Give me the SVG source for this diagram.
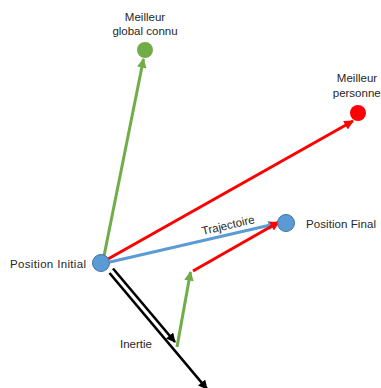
<svg xmlns="http://www.w3.org/2000/svg" width="381" height="388" viewBox="0 0 381 388">
<style>
text{font-family:"Liberation Sans","Open Sans",Arial,sans-serif;font-size:11.5px;fill:#262626}
.c{stroke-width:3;fill:none}
.g{stroke:#70AD47}.r{stroke:#FF0000}.b{stroke:#5B9BD5}.k{stroke:#000;stroke-width:2.6}
.blue{fill:#5B9BD5;stroke:#41719C;stroke-width:1}
</style>
<defs>
<marker id="ag" viewBox="0 0 10 10" refX="9" refY="5" markerWidth="3.4" markerHeight="3.2" orient="auto"><path d="M0,0L10,5L0,10z" fill="#70AD47"/></marker>
<marker id="ar" viewBox="0 0 10 10" refX="9" refY="5" markerWidth="3.4" markerHeight="3.2" orient="auto"><path d="M0,0L10,5L0,10z" fill="#FF0000"/></marker>
<marker id="ab" viewBox="0 0 10 10" refX="9" refY="5" markerWidth="3.4" markerHeight="3.2" orient="auto"><path d="M0,0L10,5L0,10z" fill="#5B9BD5"/></marker>
<marker id="ak" viewBox="0 0 10 10" refX="9" refY="5" markerWidth="3.8" markerHeight="3.6" orient="auto"><path d="M0,0L10,5L0,10z" fill="#000"/></marker>
</defs>
<g id="connectors">
<line class="c g" x1="104" y1="256" x2="143.5" y2="59" marker-end="url(#ag)"/>
<line class="c r" x1="108" y1="259" x2="353" y2="121" marker-end="url(#ar)"/>
<line class="c b" x1="110" y1="262" x2="277" y2="223.5" marker-end="url(#ab)"/>
<line class="c k" x1="113" y1="268.5" x2="175" y2="342" marker-end="url(#ak)"/>
<line class="c k" x1="109.5" y1="273" x2="207" y2="389" marker-end="url(#ak)"/>
<line class="c g" x1="177" y1="347" x2="190.5" y2="272" marker-end="url(#ag)"/>
<line class="c r" x1="193" y1="271" x2="279" y2="222" marker-end="url(#ar)"/>
<text x="229" y="229" text-anchor="middle" transform="rotate(-13 229 229)">Trajectoire</text>
<text x="136" y="348" text-anchor="middle">Inertie</text>
</g>
<g id="initial">
<circle class="blue" cx="101" cy="263" r="8.5"/>
<text x="86" y="268" text-anchor="end" textLength="76">Position Initial</text>
</g>
<g id="final">
<circle class="blue" cx="286" cy="223" r="8.5"/>
<text x="306" y="228" textLength="70">Position Final</text>
</g>
<g id="global">
<circle cx="145" cy="50" r="8" fill="#70AD47"/>
<text x="145" y="21" text-anchor="middle">Meilleur</text>
<text x="145" y="35" text-anchor="middle">global connu</text>
</g>
<g id="personal">
<circle cx="358" cy="113" r="8" fill="#FF0000"/>
<text x="357" y="82" text-anchor="middle">Meilleur</text>
<text x="358" y="97" text-anchor="middle">personnel</text>
</g>
</svg>
